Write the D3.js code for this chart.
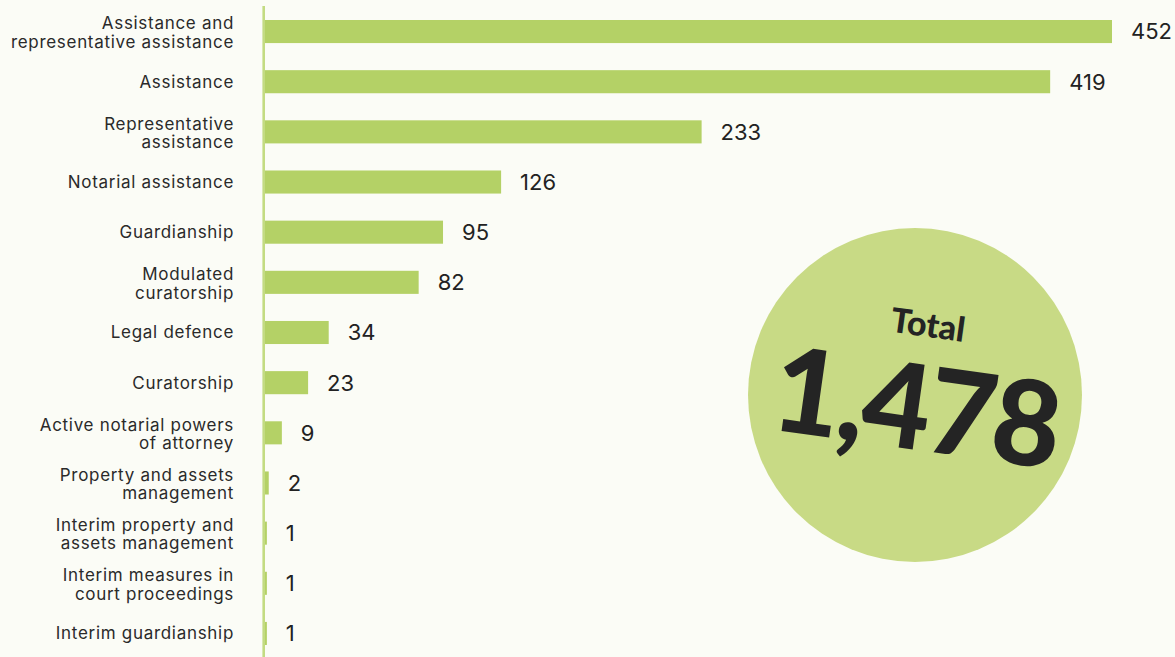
<!DOCTYPE html>
<html>
<head>
<meta charset="utf-8">
<script src="https://cdn.jsdelivr.net/npm/d3@7"></script>
<style>
  html, body { margin: 0; padding: 0; background: #fbfcf6; }
  svg { display: block; }
</style>
</head>
<body>
<svg id="chart" width="1175" height="657"></svg>
<script>
const categories = [
  "Assistance and\nrepresentative assistance",
  "Assistance",
  "Representative\nassistance",
  "Notarial assistance",
  "Guardianship",
  "Modulated\ncuratorship",
  "Legal defence",
  "Curatorship",
  "Active notarial powers\nof attorney",
  "Property and assets\nmanagement",
  "Interim property and\nassets management",
  "Interim measures in\ncourt proceedings",
  "Interim guardianship"
];
const values = [452, 419, 233, 126, 95, 82, 34, 23, 9, 2, 1, 1, 1];
const totalLabel = "Total";
const totalValue = 1478;

const W = 1175, H = 657;
const svg = d3.select("#chart");
svg.append("rect").attr("width", W).attr("height", H).attr("fill", "#fbfcf6");

const x0 = 265;
const x = d3.scaleLinear().domain([0, d3.max(values)]).range([x0, 1112]);
const y = d3.scaleBand().domain(categories).range([20, 645]).paddingInner(0.54).paddingOuter(0);
const bw = y.bandwidth();

// axis line
svg.append("line")
  .attr("x1", x0 - 1.3).attr("x2", x0 - 1.3)
  .attr("y1", 6).attr("y2", H)
  .attr("stroke", "#c3db82").attr("stroke-width", 2.6);

const g = svg.append("g");
g.selectAll("rect.bar").data(values).join("rect")
  .attr("class", "bar")
  .attr("x", x0)
  .attr("y", (d, i) => y(categories[i]))
  .attr("width", d => x(d) - x0)
  .attr("height", bw)
  .attr("fill", "#b4d166");

g.selectAll("text.val").data(values).join("text")
  .attr("class", "val")
  .attr("x", d => x(d) + 19)
  .attr("y", (d, i) => y(categories[i]) + bw / 2)
  .attr("dy", "0.36em")
  .attr("font-family", "Inter, 'Open Sans', sans-serif")
  .attr("font-size", 22)
  .attr("fill", "#222222")
  .text(d => d3.format(",")(d));

const labels = g.selectAll("text.cat").data(categories).join("text")
  .attr("class", "cat")
  .attr("text-anchor", "end")
  .attr("font-family", "Inter, 'Open Sans', sans-serif")
  .attr("font-size", 17)
  .attr("letter-spacing", 0.7)
  .attr("fill", "#2a2a2a");
labels.each(function(d) {
  const lines = d.split("\n");
  const cy = y(d) + bw / 2;
  const t = d3.select(this);
  const lh = 18.5;
  const start = cy - (lines.length - 1) * lh / 2 + (lines.length > 1 ? 1 : 0);
  lines.forEach((ln, k) => {
    t.append("tspan").attr("x", 234).attr("y", start + k * lh).attr("dy", "0.35em").text(ln);
  });
});

// total bubble
const bub = svg.append("g").attr("transform", "translate(915,395)");
bub.append("circle").attr("r", 167).attr("fill", "#c8da85");
bub.append("text")
  .attr("transform", "translate(13,-70) rotate(8)")
  .attr("text-anchor", "middle")
  .attr("dy", "0.35em")
  .attr("font-family", "Lato, sans-serif")
  .attr("font-weight", 900)
  .attr("font-size", 34)
  .attr("fill", "#242424")
  .text(totalLabel);
bub.append("text")
  .attr("transform", "translate(1,12) rotate(8)")
  .attr("text-anchor", "middle")
  .attr("dy", "0.36em")
  .attr("font-family", "Lato, sans-serif")
  .attr("font-weight", 900)
  .attr("font-size", 118)
  .attr("letter-spacing", -3)
  .attr("fill", "#242424")
  .text(d3.format(",")(totalValue));
</script>
</body>
</html>
